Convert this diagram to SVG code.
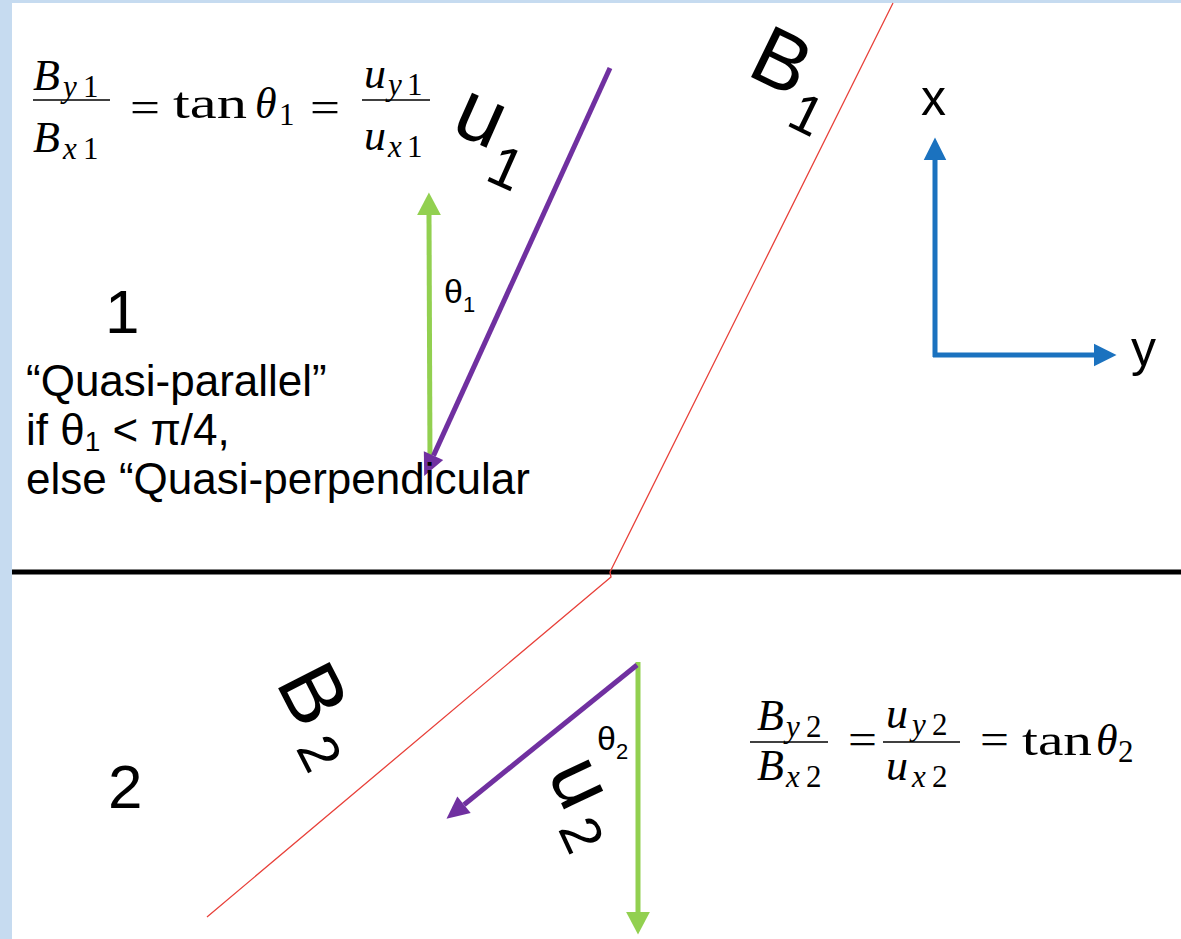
<svg xmlns="http://www.w3.org/2000/svg" width="1181" height="939" viewBox="0 0 1181 939">
<style>
.sans{font-family:"Liberation Sans","Open Sans",sans-serif;fill:#000}
.m{font-family:"Liberation Serif","DejaVu Serif",serif;fill:#000;font-size:44px}
.mi{font-style:italic}
.ms{font-family:"Liberation Serif","DejaVu Serif",serif;fill:#000;font-size:31px}
.bar{stroke:#000;stroke-width:1.6}
.g{stroke:#92d050;stroke-width:5;fill:none}
.p{stroke:#7030a0;stroke-width:5;fill:none}
.b{stroke:#1b72bf;stroke-width:5;fill:none}
.r{stroke:#e8413a;stroke-width:1.3;fill:none}
</style>
<defs>
<marker id="ag" markerUnits="userSpaceOnUse" orient="auto" refX="0" refY="0" markerWidth="30" markerHeight="30" viewBox="-2 -12 24 24" overflow="visible"><path d="M0,-9.5 L18,0 L0,9.5 Z" fill="#92d050"/></marker>
<marker id="ap" markerUnits="userSpaceOnUse" orient="auto" refX="0" refY="0" markerWidth="30" markerHeight="30" viewBox="-2 -12 24 24" overflow="visible"><path d="M0,-8.5 L18,0 L0,8.5 Z" fill="#7030a0"/></marker>
<marker id="ab" markerUnits="userSpaceOnUse" orient="auto" refX="0" refY="0" markerWidth="30" markerHeight="30" viewBox="-2 -12 24 24" overflow="visible"><path d="M0,-9 L18,0 L0,9 Z" fill="#1b72bf"/></marker>
</defs>
<rect x="0" y="0" width="1181" height="939" fill="#ffffff"/>
<rect x="0" y="0" width="12" height="939" fill="#c6dbf0"/>
<rect x="0" y="0" width="1181" height="3" fill="#c6dbf0"/>

<g id="connectors">
<line id="divider" x1="12" y1="572" x2="1181" y2="572" stroke="#000" stroke-width="5"/>
<polyline id="B-line" class="r" points="893,3 610,572 611,577 207,917"/>
<line id="g1" class="g" x1="430" y1="464" x2="429" y2="215" marker-end="url(#ag)"/>
<line id="p1" class="p" x1="610" y1="68" x2="433.5" y2="455.6" marker-end="url(#ap)"/>
<line id="g2" class="g" x1="638" y1="662" x2="638" y2="912" marker-end="url(#ag)"/>
<line id="p2" class="p" x1="637" y1="665" x2="464" y2="804.7" marker-end="url(#ap)"/>
<line id="ax" class="b" x1="935" y1="357" x2="935" y2="160" marker-end="url(#ab)"/>
<line id="ay" class="b" x1="933" y1="355" x2="1094" y2="355" marker-end="url(#ab)"/>
</g>

<g id="formula1">
<text class="m mi" x="33" y="90">B</text>
<text class="ms" x="63" y="97"><tspan class="mi">y</tspan><tspan x="83">1</tspan></text>
<line class="bar" x1="33" y1="100" x2="110" y2="100"/>
<text class="m mi" x="33" y="152">B</text>
<text class="ms" x="63" y="159"><tspan class="mi">x</tspan><tspan x="83">1</tspan></text>
<text class="m" x="130" y="122" textLength="30" lengthAdjust="spacingAndGlyphs">=</text>
<text class="m" x="173" y="118" textLength="74" lengthAdjust="spacingAndGlyphs">tan</text>
<text class="m mi" x="255" y="118">θ</text>
<text class="ms" x="279" y="125">1</text>
<text class="m" x="310" y="122" textLength="30" lengthAdjust="spacingAndGlyphs">=</text>
<text class="m mi" x="364" y="88">u</text>
<text class="ms" x="388" y="95"><tspan class="mi">y</tspan><tspan x="407">1</tspan></text>
<line class="bar" x1="362" y1="100" x2="430" y2="100"/>
<text class="m mi" x="364" y="150">u</text>
<text class="ms" x="388" y="157"><tspan class="mi">x</tspan><tspan x="407">1</tspan></text>
</g>

<g id="formula2">
<text class="m mi" x="757" y="730">B</text>
<text class="ms" x="786" y="737"><tspan class="mi">y</tspan><tspan x="806">2</tspan></text>
<line class="bar" x1="750" y1="742" x2="828" y2="742"/>
<text class="m mi" x="757" y="780">B</text>
<text class="ms" x="786" y="787"><tspan class="mi">x</tspan><tspan x="806">2</tspan></text>
<text class="m" x="848" y="754" textLength="29" lengthAdjust="spacingAndGlyphs">=</text>
<text class="m mi" x="886" y="728">u</text>
<text class="ms" x="912" y="735"><tspan class="mi">y</tspan><tspan x="932">2</tspan></text>
<line class="bar" x1="883" y1="742" x2="960" y2="742"/>
<text class="m mi" x="886" y="780">u</text>
<text class="ms" x="912" y="787"><tspan class="mi">x</tspan><tspan x="932">2</tspan></text>
<text class="m" x="980" y="754" textLength="29" lengthAdjust="spacingAndGlyphs">=</text>
<text class="m" x="1022" y="755" textLength="70" lengthAdjust="spacingAndGlyphs">tan</text>
<text class="m mi" x="1096" y="755">θ</text>
<text class="ms" x="1118" y="762">2</text>
</g>

<g id="label-u1" transform="translate(449,131) rotate(24)">
<text class="sans" x="0" y="0" font-size="84">u</text>
<text class="sans" x="51" y="30" font-size="58">1</text>
</g>
<g id="label-B1" transform="translate(745,74) rotate(26)">
<text class="sans" x="0" y="0" font-size="82">B</text>
<text class="sans" x="58" y="28" font-size="55">1</text>
</g>
<g id="label-B2" transform="translate(275,682) rotate(63)">
<text class="sans" x="0" y="0" font-size="84">B</text>
<text class="sans" x="68" y="12" font-size="56">2</text>
</g>
<g id="label-u2" transform="translate(547,773) rotate(65)">
<text class="sans" x="0" y="0" font-size="82">u</text>
<text class="sans" x="55" y="14" font-size="56">2</text>
</g>

<g id="theta1"><text class="sans" x="444" y="303" font-size="34">θ<tspan font-size="22" dy="9">1</tspan></text></g>
<g id="theta2"><text class="sans" x="597" y="750" font-size="34">θ<tspan font-size="22" dy="9">2</tspan></text></g>

<g id="axes-labels">
<text class="sans" x="921" y="115" font-size="50">x</text>
<text class="sans" x="1131" y="366" font-size="50">y</text>
</g>

<g id="region1"><text class="sans" x="105" y="333" font-size="62">1</text></g>
<g id="region2"><text class="sans" x="108" y="808" font-size="62">2</text></g>

<g id="note" class="sans" font-size="44">
<text x="26" y="396">“Quasi-parallel”</text>
<text x="26" y="445">if θ<tspan font-size="28" dy="6">1</tspan><tspan dy="-6"> &lt; π/4,</tspan></text>
<text x="26" y="494">else “Quasi-perpendicular</text>
</g>
</svg>
